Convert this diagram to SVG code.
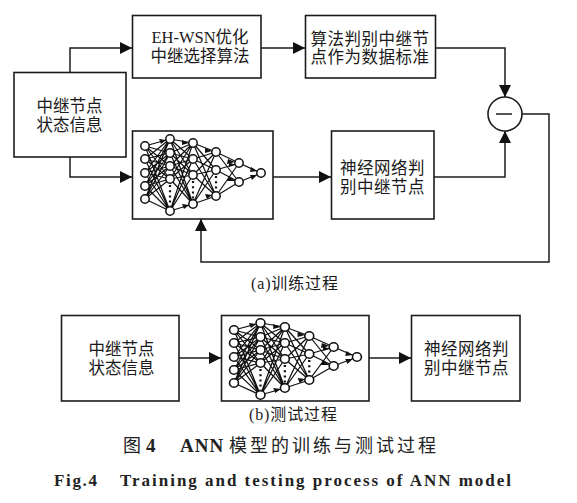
<svg xmlns="http://www.w3.org/2000/svg" width="577" height="503" viewBox="0 0 577 503">
<style>
.box{fill:#fff;stroke:#1c1c1c;stroke-width:1.6}
.wire{fill:none;stroke:#1c1c1c;stroke-width:1.5}
.t{font-family:"Liberation Serif","Noto Sans CJK SC",serif;font-size:16.500px;fill:#1a1a1a;text-anchor:middle}
.c{font-family:"Liberation Serif","Noto Sans CJK SC",serif;font-size:16px;fill:#1a1a1a}
.b{font-family:"Liberation Serif","Noto Sans CJK SC",serif;font-size:17px;font-weight:bold;fill:#222}
.k{font-family:"Liberation Serif","Noto Sans CJK SC",serif;font-size:18px;fill:#222}
.a{font-size:19px;font-weight:bold;letter-spacing:1px}
.e{fill:none;stroke:#111;stroke-width:1.200}
.n{fill:#fff;stroke:#111;stroke-width:1.500}
.d{fill:none;stroke:#111;stroke-width:2.200;stroke-dasharray:2 3.200}
</style>
<defs>
<marker id="ah" markerUnits="userSpaceOnUse" markerWidth="13" markerHeight="13" refX="12" refY="6" orient="auto"><path d="M0 0L12 6L0 12Z" fill="#111"/></marker>
<g id="net">
<path class="e" d="M145 146L170 139M145 146L170 153M145 146L170 166M145 146L170 179M145 146L170 211M145 159L170 139M145 159L170 153M145 159L170 166M145 159L170 179M145 159L170 211M145 173L170 139M145 173L170 153M145 173L170 166M145 173L170 179M145 173L170 211M145 186L170 139M145 186L170 153M145 186L170 166M145 186L170 179M145 186L170 211M145 199L170 139M145 199L170 153M145 199L170 166M145 199L170 179M145 199L170 211"/>
<path class="e" d="M170 139L193 143M170 139L193 159M170 139L193 175M170 139L193 204M170 153L193 143M170 153L193 159M170 153L193 175M170 153L193 204M170 166L193 143M170 166L193 159M170 166L193 175M170 166L193 204M170 179L193 143M170 179L193 159M170 179L193 175M170 179L193 204M170 211L193 143M170 211L193 159M170 211L193 175M170 211L193 204"/>
<path class="e" d="M193 143L216 152M193 143L216 170M193 143L216 196M193 159L216 152M193 159L216 170M193 159L216 196M193 175L216 152M193 175L216 170M193 175L216 196M193 204L216 152M193 204L216 170M193 204L216 196"/>
<path class="e" d="M216 152L239 163M216 152L239 182M216 170L239 163M216 170L239 182M216 196L239 163M216 196L239 182M239 163L261 173M239 182L261 173"/>
<path fill="#111" d="M166 140l-7-1 2 5zM189 143l-7-3 0 5zM189 205l-7-1 2 5zM212 151l-7-3 0 5zM212 195l-7-1 2 5zM235 162l-7-3-1 5zM235 181l-6-5-2 5zM235 165l-6-3 0 5zM257 171l-6-4-1 5zM257 175l-7 0 2 5z"/>
<path class="d" d="M170 185V206M193 181V199M216 176V192"/>
<circle class="n" cx="145" cy="146" r="4.200"/><circle class="n" cx="145" cy="159" r="4.200"/><circle class="n" cx="145" cy="173" r="4.200"/><circle class="n" cx="145" cy="186" r="4.200"/><circle class="n" cx="145" cy="199" r="4.200"/>
<circle class="n" cx="170" cy="139" r="4.200"/><circle class="n" cx="170" cy="153" r="4.200"/><circle class="n" cx="170" cy="166" r="4.200"/><circle class="n" cx="170" cy="179" r="4.200"/><circle class="n" cx="170" cy="211" r="4.200"/>
<circle class="n" cx="193" cy="143" r="4.200"/><circle class="n" cx="193" cy="159" r="4.200"/><circle class="n" cx="193" cy="175" r="4.200"/><circle class="n" cx="193" cy="204" r="4.200"/>
<circle class="n" cx="216" cy="152" r="4.200"/><circle class="n" cx="216" cy="170" r="4.200"/><circle class="n" cx="216" cy="196" r="4.200"/>
<circle class="n" cx="239" cy="163" r="4.200"/><circle class="n" cx="239" cy="182" r="4.200"/>
<circle class="n" cx="261" cy="173" r="4.200"/>
</g>
</defs>
<rect width="577" height="503" fill="#fff"/>
<g id="connectors">
<path class="wire" marker-end="url(#ah)" d="M70 72.500V48H132"/>
<path class="wire" marker-end="url(#ah)" d="M70 157V177H132"/>
<path class="wire" marker-end="url(#ah)" d="M261 48H305"/>
<path class="wire" marker-end="url(#ah)" d="M435.500 48H505V97"/>
<path class="wire" marker-end="url(#ah)" d="M273 177H331"/>
<path class="wire" marker-end="url(#ah)" d="M434 177H505V131"/>
<path class="wire" marker-end="url(#ah)" d="M522 114H549V262H201V219"/>
<path class="wire" marker-end="url(#ah)" d="M179 358H221"/>
<path class="wire" marker-end="url(#ah)" d="M369 358H411"/>
</g>
<g id="relay-a"><rect class="box" x="14" y="72.500" width="112" height="84.500"/><text class="t" x="69.500" y="112">中继节点</text><text class="t" x="69.500" y="130.500">状态信息</text></g>
<g id="algo"><rect class="box" x="132.500" y="15.500" width="128.500" height="62.500"/><text class="t" x="200" y="43">EH-WSN优化</text><text class="t" x="200" y="62">中继选择算法</text></g>
<g id="standard"><rect class="box" x="305.500" y="15.500" width="130" height="62.500"/><text class="t" x="370" y="45" letter-spacing=".5">算法判别中继节</text><text class="t" x="370" y="63" letter-spacing=".5">点作为数据标准</text></g>
<g id="sum"><circle class="box" cx="505" cy="114" r="17"/><path class="wire" d="M496 114H512"/></g>
<g id="net-a"><rect class="box" x="132.500" y="131" width="140.500" height="88"/><use href="#net"/></g>
<g id="judge-a"><rect class="box" x="331.500" y="131" width="102.500" height="88"/><text class="t" x="382.500" y="173.500" letter-spacing=".5">神经网络判</text><text class="t" x="382.500" y="192.500" letter-spacing=".5">别中继节点</text></g>
<g id="relay-b"><rect class="box" x="61.500" y="315.500" width="117.500" height="85.500"/><text class="t" x="121.500" y="355">中继节点</text><text class="t" x="121.500" y="374">状态信息</text></g>
<g id="net-b"><rect class="box" x="221.500" y="315.500" width="147.500" height="85.500"/><use href="#net" transform="translate(80.300 184) scale(1.06 1)"/></g>
<g id="judge-b"><rect class="box" x="411.500" y="315.500" width="108.500" height="85.500"/><text class="t" x="466.500" y="355" letter-spacing=".5">神经网络判</text><text class="t" x="466.500" y="373.500" letter-spacing=".5">别中继节点</text></g>
<text class="c" x="251" y="289" textLength="87">(a)训练过程</text>
<text class="c" x="249" y="420" textLength="88">(b)测试过程</text>
<text class="k" y="452"><tspan x="123">图</tspan><tspan class="a" x="146">4</tspan><tspan class="a" x="180">ANN</tspan><tspan x="229" letter-spacing="3">模型的训练与测试过程</tspan></text>
<text class="b" x="54" y="486" textLength="43">Fig.4</text>
<text class="b" x="120" y="486" textLength="391">Training and testing process of ANN model</text>
</svg>
